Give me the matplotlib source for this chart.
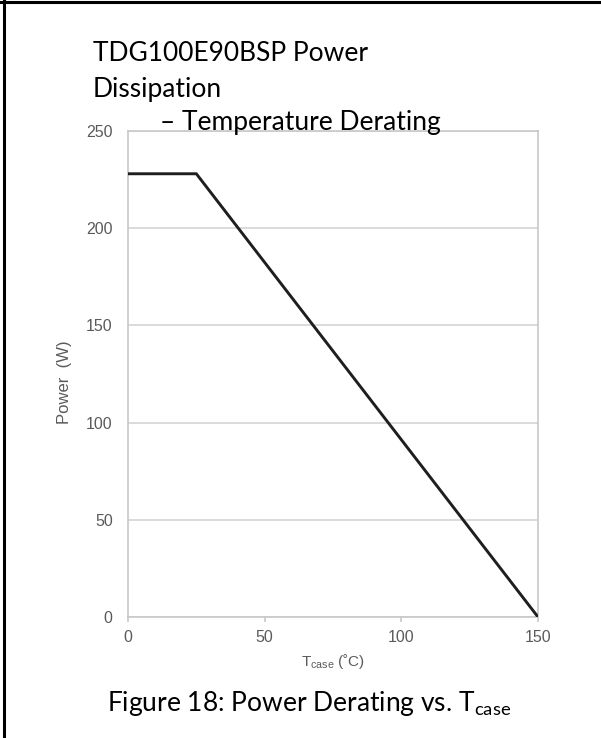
import matplotlib
matplotlib.use('Agg')
import matplotlib.pyplot as plt
from matplotlib.lines import Line2D

# derating curve: flat up to 25 C, then linear down to 0 W at 150 C
t_case = [0, 25, 150]
power = [228, 228, 0]

x_ticks = [0, 50, 100, 150]
y_ticks = [0, 50, 100, 150, 200, 250]

title_lines = ['TDG100E90BSP Power', 'Dissipation', '– Temperature Derating']
caption = 'Figure 18: Power Derating vs. T$_{\\mathrm{case}}$'
x_label = 'T$_{\\mathsf{case}}$ (˚C)'
y_label = 'Power  (W)'

plt.rcParams['mathtext.fontset'] = 'custom'
plt.rcParams['mathtext.rm'] = 'Lato'
plt.rcParams['mathtext.sf'] = 'Liberation Sans'

fig = plt.figure(figsize=(6.01, 7.38), dpi=100)
W, H = 601, 738

ax = fig.add_axes([128 / W, 1 - 617 / H, 410 / W, 486 / H])
ax.plot(t_case, power, color='#1e1e1e', linewidth=2.1, solid_joinstyle='miter', zorder=3)
ax.set_xlim(0, 150)
ax.set_ylim(0, 250)
ax.set_xticks(x_ticks)
ax.set_yticks(y_ticks)

grid_c = '#c8c8c8'
lab_c = '#5a5a5a'
for s in ax.spines.values():
    s.set_color(grid_c)
    s.set_linewidth(1.2)
ax.yaxis.grid(True, color='#d4d4d4', linewidth=1.2)
ax.tick_params(axis='y', length=0, pad=11, labelsize=11.5, labelcolor=lab_c)
ax.tick_params(axis='x', length=3.6, color=grid_c, width=1.2, pad=6, labelsize=11.5, labelcolor=lab_c)
for lab in ax.get_xticklabels() + ax.get_yticklabels():
    lab.set_family('Liberation Sans')

ax.set_ylabel(y_label, family='Liberation Sans', fontsize=12, color=lab_c)
ax.yaxis.set_label_coords(-0.137, 0.4835)
ax.set_xlabel(x_label, family='Liberation Sans', fontsize=11, color=lab_c, labelpad=5)

# title lines (document style text above the plot)
fs = 19
fig.text(93 / W, 1 - 61 / H, title_lines[0], family='Lato', fontsize=fs, va='baseline', ha='left')
fig.text(93 / W, 1 - 97 / H, title_lines[1], family='Lato', fontsize=fs, va='baseline', ha='left')
fig.text(160 / W, 1 - 130 / H, title_lines[2], family='Lato', fontsize=fs, va='baseline', ha='left')

fig.text(107 / W, 1 - 711 / H, caption, family='Lato', fontsize=fs, va='baseline', ha='left')

# table cell border on the left and top
fig.add_artist(Line2D([4 / W, 4 / W], [0, 1], color='black', linewidth=2.2, transform=fig.transFigure))
fig.add_artist(Line2D([0, 1], [1 - 1.5 / H, 1 - 1.5 / H], color='black', linewidth=2.2, transform=fig.transFigure))

fig.savefig('out.png', dpi=100)
